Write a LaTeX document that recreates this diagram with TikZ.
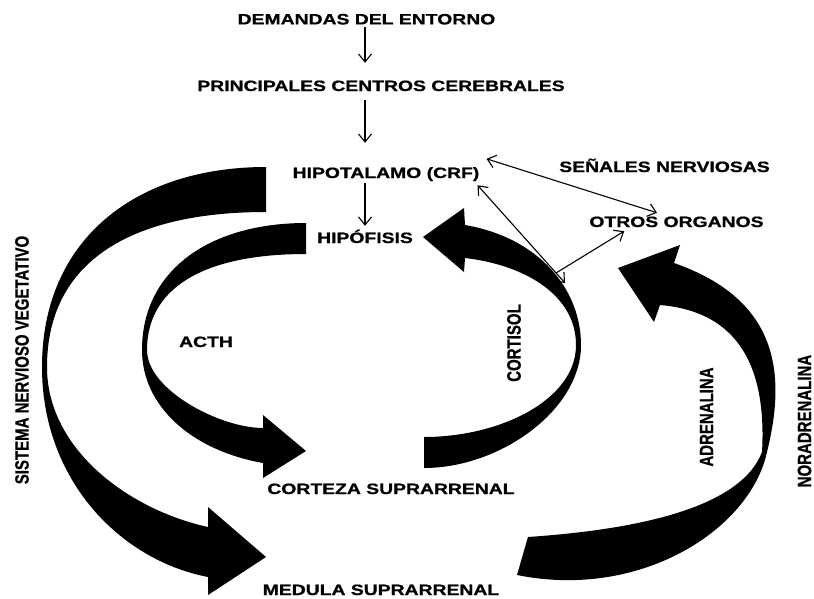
\documentclass[tikz,border=0pt]{standalone}
\usepackage{fontspec}
\setmainfont{Liberation Sans}[BoldFeatures={FakeBold=0.8}]
\usepackage{graphicx}
\usetikzlibrary{arrows.meta}
\newcommand{\hstr}[1]{\scalebox{1.29}[1]{#1}}
\newcommand{\vstr}[1]{\scalebox{1.29}[1]{\rotatebox{90}{#1}}}
\begin{document}
\begin{tikzpicture}[x=1pt,y=-1pt,
  lbl/.style={inner sep=0pt, font=\fontsize{15}{18}\selectfont\bfseries, text height=10.7pt, text depth=0pt, anchor=base},
  vlbl/.style={inner sep=0pt, font=\fontsize{15}{18}\selectfont\bfseries},
  thinarr/.style={line width=1.1pt, -{Straight Barb[length=8pt,width=13pt]}},
  biarr/.style={line width=1.1pt, {Straight Barb[length=8pt,width=13pt]}-{Straight Barb[length=8pt,width=13pt]}},
  bigarrow/.style={fill=black, draw=none}]
\useasboundingbox (0,0) rectangle (814,598);

% labels
\node[lbl] (dem) at (366.5,24.4) {\hstr{DEMANDAS DEL ENTORNO}};
\node[lbl] (prin) at (381,91) {\hstr{PRINCIPALES CENTROS CEREBRALES}};
\node[lbl] (hipo) at (386,178) {\hstr{HIPOTALAMO (CRF)}};
\node[lbl] (hipof) at (365,243) {\hstr{HIPÓFISIS}};
\node[lbl] (senal) at (664.5,172) {\hstr{SEÑALES NERVIOSAS}};
\node[lbl] (otros) at (676.5,227) {\hstr{OTROS ORGANOS}};
\node[lbl] (acth) at (206,347) {\hstr{ACTH}};
\node[lbl] (corteza) at (391,494) {\hstr{CORTEZA SUPRARRENAL}};
\node[lbl] (medula) at (381,595) {\hstr{MEDULA SUPRARRENAL}};
\node[vlbl] (snv) at (22,360) {\vstr{SISTEMA NERVIOSO VEGETATIVO}};
\node[vlbl] (cortisol) at (514,343) {\vstr{CORTISOL}};
\node[vlbl] (adren) at (706.5,417) {\vstr{ADRENALINA}};
\node[vlbl] (noradren) at (804.5,421) {\vstr{NORADRENALINA}};

% thin connectors
\coordinate (axis) at (365,0);
\coordinate (cortA) at (565,283);
\coordinate (cortB) at (556,273);
\draw[thinarr, shorten <=2.6pt, shorten >=17.3pt] (dem.south -| axis) -- (prin.north -| axis);
\draw[thinarr, shorten <=9pt, shorten >=24.3pt] (prin.south -| axis) -- (hipo.north -| axis);
\draw[thinarr, shorten <=5pt, shorten >=6.3pt] (hipo.south -| axis) -- (hipof.north -| axis);
\draw[biarr] ([shift={(7,-8.3)}]hipo.north east) -- ([shift={(-19.5,-3.3)}]otros.north);
\draw[biarr] ([shift={(-2,7)}]hipo.south east) -- (cortA);
\draw[thinarr] (cortB) -- ([shift={(35,4)}]otros.south west);

% big curved arrows
% sistema nervioso vegetativo
\fill[bigarrow] (266,167) .. controls (135,167) and (42,240) .. (42,367)
  .. controls (42,480) and (120,560) .. (208,577)
  -- (208,595) -- (266,557) -- (208,507) -- (208,527)
  .. controls (130,510) and (47,450) .. (47,367)
  .. controls (47,262) and (130,212) .. (266,212) -- cycle;
% ACTH
\fill[bigarrow] (306,223) .. controls (210,223) and (142,270) .. (142,350)
  .. controls (142,405) and (190,450) .. (263,463)
  -- (263,478) -- (306,451) -- (263,415) -- (263,428)
  .. controls (220,428) and (147,390) .. (147,350)
  .. controls (147,290) and (200,254) .. (306,254) -- cycle;
% cortisol
\fill[bigarrow] (424,468) .. controls (500,468) and (581,410) .. (581,345)
  .. controls (581,290) and (540,238) .. (465,225)
  -- (464,208) -- (423,237) -- (464,272) -- (465,258)
  .. controls (525,265) and (576,295) .. (576,345)
  .. controls (576,400) and (500,437) .. (424,437) -- cycle;
% adrenalina
\fill[bigarrow] (517,575) .. controls (640,600) and (750,530) .. (767,452)
  .. controls (786,375) and (780,300) .. (674,263)
  -- (680,245) -- (618,268) -- (654,322) -- (660,305)
  .. controls (720,310) and (768,345) .. (762,452)
  .. controls (740,510) and (630,530) .. (528,537) -- cycle;
\end{tikzpicture}
\end{document}
